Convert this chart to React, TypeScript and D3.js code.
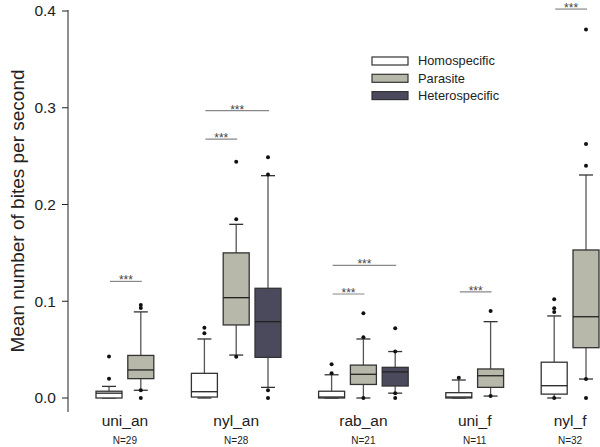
import React from "react";
import * as d3 from "d3";

const groups = ["uni_an", "nyl_an", "rab_an", "uni_f", "nyl_f"];
const groupN = ["N=29", "N=28", "N=21", "N=11", "N=32"];
const seriesNames = ["Homospecific", "Parasite", "Heterospecific"];
const seriesColors = ["#ffffff", "#b8b8aa", "#4a4a5c"];
const yTicks = [0, 0.1, 0.2, 0.3, 0.4];

// slot index of each box along the x axis
const boxSlot = [0, 1, 3, 4, 5, 7, 8, 9, 11, 12, 14, 15];
const boxGroup = [0, 0, 1, 1, 1, 2, 2, 2, 3, 3, 4, 4];
const boxSeries = [0, 1, 0, 1, 2, 0, 1, 2, 0, 1, 0, 1];
// [whiskerLow, q1, median, q3, whiskerHigh]
const boxStats = [
  [0.0, 0.0, 0.005, 0.007, 0.012],
  [0.008, 0.02, 0.029, 0.044, 0.089],
  [0.0, 0.001, 0.0065, 0.0255, 0.061],
  [0.0444, 0.0755, 0.1037, 0.15, 0.1795],
  [0.011, 0.042, 0.0789, 0.1134, 0.2298],
  [0.0, 0.0, 0.001, 0.007, 0.024],
  [0.0, 0.014, 0.0245, 0.034, 0.061],
  [0.005, 0.0124, 0.027, 0.0317, 0.048],
  [0.0, 0.0, 0.001, 0.0055, 0.0186],
  [0.002, 0.011, 0.023, 0.03, 0.0789],
  [0.0, 0.004, 0.0127, 0.037, 0.0848],
  [0.0196, 0.052, 0.084, 0.153, 0.2305],
];
const boxOutliers = [
  [0.02, 0.043],
  [0.096, 0.093, 0.008, 0.0],
  [0.0727, 0.067],
  [0.1847, 0.2443, 0.0427],
  [0.2488, 0.231, 0.008, 0.0],
  [0.0255, 0.035],
  [0.0875, 0.0627, 0.0],
  [0.072, 0.048, 0.005, 0.0],
  [0.021],
  [0.09, 0.002],
  [0.102, 0.0927, 0.089, 0.0],
  [0.381, 0.2625, 0.24, 0.0196, 0.0],
];
// significance bars: [fromSlot, toSlot, yValue]
const sigFrom = [0, 3, 3, 7, 7, 11, 14];
const sigTo = [1, 4, 5, 8, 9, 12, 15];
const sigY = [0.1205, 0.2675, 0.297, 0.1075, 0.1370, 0.1096, 0.402];

export default function App() {
  const W = 600, H = 447;
  const y = d3.scaleLinear().domain([0, 0.4]).range([398, 11]);
  const x = d3.scaleLinear().domain([0, 15]).range([109, 586]);
  const bw = 26;
  const axisX = 68;
  const groupCenter = groups.map((_, g) => {
    const slots = boxSlot.filter((_, i) => boxGroup[i] === g);
    return (x(d3.min(slots)!) + x(d3.max(slots)!)) / 2;
  });
  return (
    <svg width={W} height={H} style={{ position: "absolute", left: 0, top: 0, fontFamily: "Liberation Sans, Arial, sans-serif" }}>
      <rect width={W} height={H} fill="#fff" />
      {/* y axis */}
      <line x1={axisX} x2={axisX} y1={10} y2={412} stroke="#222" strokeWidth={1} />
      {yTicks.map((t) => (
        <g key={t}>
          <line x1={axisX - 6} x2={axisX} y1={y(t)} y2={y(t)} stroke="#222" />
          <text x={56} y={y(t)} dy="0.35em" textAnchor="end" fontSize={15.5} fill="#222">
            {t.toFixed(1)}
          </text>
        </g>
      ))}
      <text transform={`translate(24,211) rotate(-90)`} textAnchor="middle" fontSize={19} fill="#222">
        Mean number of bites per second
      </text>
      {/* group labels */}
      {groups.map((g, i) => (
        <g key={g}>
          <text x={groupCenter[i]} y={426} textAnchor="middle" fontSize={15.5} fill="#222">{g}</text>
          <text x={groupCenter[i]} y={444} textAnchor="middle" fontSize={10} fill="#222">{groupN[i]}</text>
        </g>
      ))}
      {/* boxes */}
      {boxStats.map((s, i) => {
        const cx = x(boxSlot[i]);
        const [lo, q1, med, q3, hi] = s;
        return (
          <g key={i}>
            <line x1={cx} x2={cx} y1={y(hi)} y2={y(q3)} stroke="#555" strokeWidth={1.3} />
            <line x1={cx} x2={cx} y1={y(q1)} y2={y(lo)} stroke="#555" strokeWidth={1.3} />
            <line x1={cx - 7} x2={cx + 7} y1={y(hi)} y2={y(hi)} stroke="#333" strokeWidth={1.3} />
            <line x1={cx - 7} x2={cx + 7} y1={y(lo)} y2={y(lo)} stroke="#333" strokeWidth={1.3} />
            <rect x={cx - bw / 2} y={y(q3)} width={bw} height={Math.max(y(q1) - y(q3), 0)}
              fill={seriesColors[boxSeries[i]]} stroke="#333" strokeWidth={1.3} />
            <line x1={cx - bw / 2} x2={cx + bw / 2} y1={y(med)} y2={y(med)} stroke="#222" strokeWidth={1.3} />
            {boxOutliers[i].map((o, j) => (
              <circle key={j} cx={cx} cy={y(o)} r={2} fill="#111" />
            ))}
          </g>
        );
      })}
      {/* significance */}
      {sigFrom.map((f, i) => {
        const x1 = x(f) + 1, x2 = x(sigTo[i]) + 1;
        return (
          <g key={i}>
            <line x1={x1} x2={x2} y1={y(sigY[i])} y2={y(sigY[i])} stroke="#888" strokeWidth={1.2} />
            <text x={(x1 + x2) / 2} y={y(sigY[i]) + 3} textAnchor="middle" fontSize={12} fill="#444">***</text>
          </g>
        );
      })}
      {/* legend */}
      {seriesNames.map((n, i) => (
        <g key={n} transform={`translate(372,${57 + i * 17.3})`}>
          <rect width={36} height={8} fill={seriesColors[i]} stroke="#333" strokeWidth={1.2} />
          <text x={46} y={4} dy="0.35em" fontSize={12.8} fill="#222">{n}</text>
        </g>
      ))}
    </svg>
  );
}
